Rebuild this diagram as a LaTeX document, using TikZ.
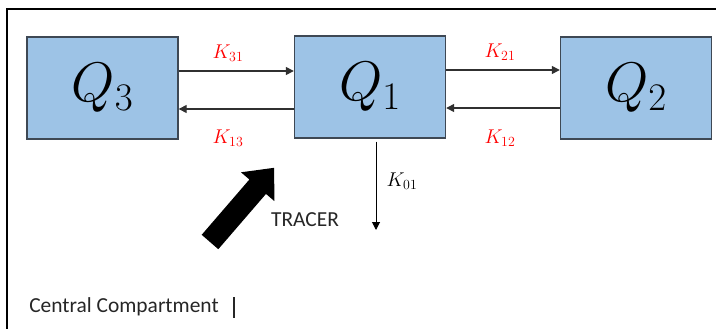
\RequirePackage{fix-cm}
\documentclass[tikz,border=0pt]{standalone}
\usepackage{fontspec}
\newfontfamily\calib{Carlito}
\usetikzlibrary{arrows.meta}
\definecolor{boxfill}{HTML}{9DC3E6}
\definecolor{boxline}{HTML}{3E4854}
\definecolor{txtgray}{HTML}{262626}
\definecolor{conngray}{HTML}{303030}
\tikzset{
  comp/.style={draw=boxline, line width=1.4bp, fill=boxfill, minimum width=151bp, minimum height=102bp, inner sep=0pt, font=\fontsize{56}{60}\selectfont},
  conn/.style={draw=conngray, line width=1.4bp, -{Triangle[length=8bp,width=8bp]}},
  rate/.style={text=red, font=\fontsize{20}{23}\selectfont, inner sep=0pt},
  plain/.style={text=txtgray, font=\calib\fontsize{21.5}{24}\selectfont, inner sep=0pt},
}
\begin{document}
\begin{tikzpicture}[x=1bp,y=1bp]
\useasboundingbox (0,0) rectangle (716,328);
% outer frame (partly visible)
\draw[line width=2bp, black] (7,-5) -- (7,319) -- (725,319);
% compartments
\node[comp] (Q3) at (102.5,240) {$Q_3$};
\node[comp] (Q1) at (370,241) {$Q_1$};
\node[comp] (Q2) at (636,240) {$Q_2$};
% exchange arrows
\draw[conn] (Q3.east |- 0,257) -- (Q1.west |- 0,257);
\draw[conn] (Q1.west |- 0,219) -- (Q3.east |- 0,219);
\draw[conn] (Q1.east |- 0,258) -- (Q2.west |- 0,258);
\draw[conn] (Q2.west |- 0,220) -- (Q1.east |- 0,220);
% rate labels
\node[rate] (k31) at (228,275) {$K_{31}$};
\node[rate] (k13) at (228,190) {$K_{13}$};
\node[rate] (k21) at (500,276) {$K_{21}$};
\node[rate] (k12) at (500,190) {$K_{12}$};
% elimination
\coordinate (out) at (376,98);
\draw[black, line width=1bp, -{Triangle[length=8bp,width=8bp]}] (Q1.south -| 376,0) ++(0,-3) -- (out);
\node[font=\fontsize{20}{23}\selectfont, inner sep=0pt] (k01) at (402,147) {$K_{01}$};
% tracer input arrow
\fill[black] (201.7,93.2) -- (249.4,148.5) -- (241.0,155.7) -- (274.1,160.2)
  -- (274.4,126.9) -- (266.0,134.1) -- (218.3,78.8) -- cycle;
\node[plain] (tracer) at (305,108) {TRACER};
% caption
\node[plain] (cap) at (124,21) {Central Compartment};
\draw[txtgray, line width=1.2bp] (234,31) -- (234,10);
\end{tikzpicture}
\end{document}
